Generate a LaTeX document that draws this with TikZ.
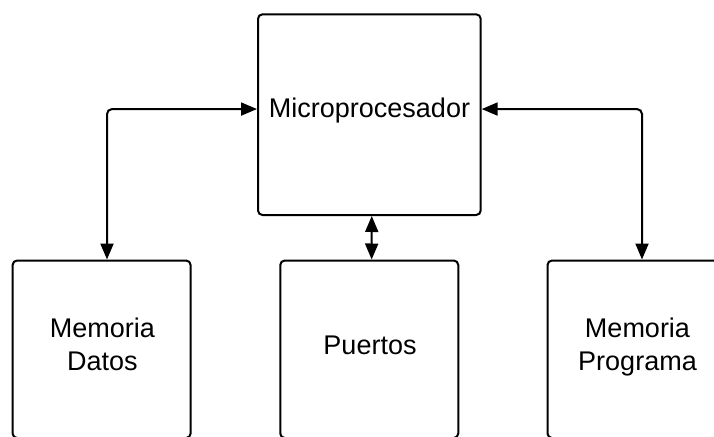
\documentclass[tikz,border=0pt]{standalone}
\usepackage{fontspec}
\setmainfont{Liberation Sans}
\usetikzlibrary{arrows.meta}

\tikzset{
  block/.style={draw=black, line width=2pt, rounded corners=4.5pt, inner sep=0pt,
                fill=white},
  bigblock/.style={block, minimum width=222.7pt, minimum height=200.7pt},
  smallblock/.style={block, minimum width=178pt, minimum height=177.5pt},
  blocktext/.style={font=\fontsize{27}{33}\selectfont, align=center, inner sep=0pt, anchor=base},
  link/.style={line width=2pt, rounded corners=5pt,
               {Triangle[length=16pt,width=13pt]}-{Triangle[length=16pt,width=13pt]}}
}

\begin{document}
\begin{tikzpicture}[x=1pt,y=-1pt]
  \useasboundingbox (0,0) rectangle (714,436);
  \clip (0,0) rectangle (714,436);

  % processor and the three blocks it talks to
  \node[bigblock]   (micro)  at (369.35,114.65) {};
  \node[smallblock] (datos)  at (101.6,349.25) {};
  \node[smallblock] (puerto) at (369.25,349.25) {};
  \node[smallblock] (prog)   at (636.5,349.25) {};

  % labels (base anchor sits on the last line of each label)
  \node[blocktext] (tmicro)  at (369.5,117.3) {Microprocesador};
  \node[blocktext] (tdatos)  at (102.3,370.3) {Memoria\\Datos};
  \node[blocktext] (tpuerto) at (370,354.3)   {Puertos};
  \node[blocktext] (tprog)   at (637.5,370.3) {Memoria\\Programa};

  % bidirectional buses
  \draw[link] ([yshift=5.6pt]micro.west) -| ([xshift=5.4pt]datos.north);
  \draw[link] ([yshift=5.6pt]micro.east) -| ([xshift=5.5pt]prog.north);
  \draw[link] ([xshift=2.4pt]micro.south) -- ([xshift=2.4pt]puerto.north);
\end{tikzpicture}
\end{document}
